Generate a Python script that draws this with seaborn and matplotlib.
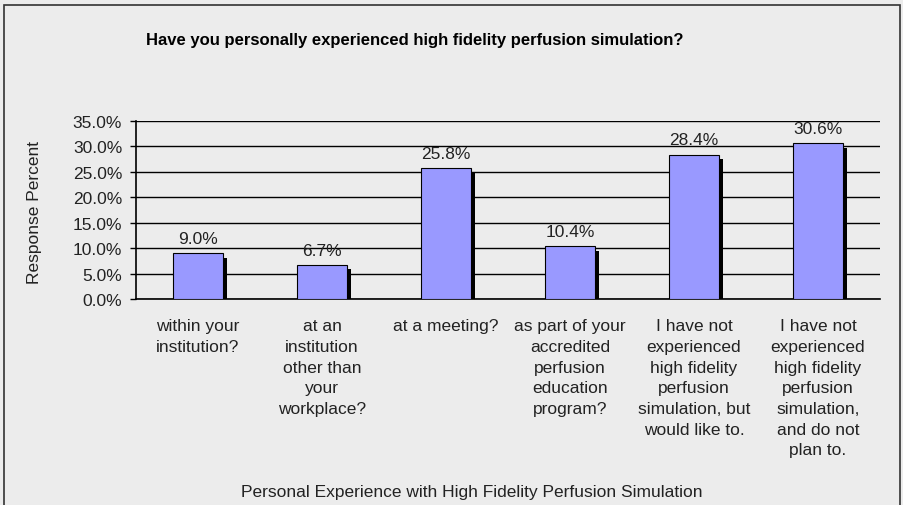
import seaborn as sns
import matplotlib.pyplot as plt
from matplotlib.patches import Rectangle
from matplotlib.transforms import ScaledTranslation
from matplotlib.ticker import FixedLocator, PercentFormatter

# Survey answers and response share (percent)
categories = [
    "within your\ninstitution?",
    "at an\ninstitution\nother than\nyour\nworkplace?",
    "at a meeting?",
    "as part of your\naccredited\nperfusion\neducation\nprogram?",
    "I have not\nexperienced\nhigh fidelity\nperfusion\nsimulation, but\nwould like to.",
    "I have not\nexperienced\nhigh fidelity\nperfusion\nsimulation,\nand do not\nplan to.",
]
percents = [9.0, 6.7, 25.8, 10.4, 28.4, 30.6]
y_ticks = [0, 5, 10, 15, 20, 25, 30, 35]

bg = "#ececec"
text_col = "#222222"

sns.set_style("white")
plt.rcParams["font.family"] = ["Liberation Sans", "DejaVu Sans"]

fig = plt.figure(figsize=(9.04, 5.06), dpi=100, facecolor=bg)
ax = fig.add_axes([136 / 904, 1 - 300 / 506, 744 / 904, 178 / 506])
ax.set_facecolor(bg)

sns.barplot(x=list(range(len(percents))), y=percents, color="#9999ff",
            saturation=1, width=0.4, edgecolor="black", linewidth=0.8,
            ax=ax, zorder=3)

# black drop shadow behind each bar, shifted right and down
shift = ScaledTranslation(4.5 / 100, -4.5 / 100, fig.dpi_scale_trans)
for bar in list(ax.patches):
    sh = Rectangle(bar.get_xy(), bar.get_width(), bar.get_height(),
                   facecolor="black", edgecolor="none",
                   transform=ax.transData + shift, zorder=2.5)
    ax.add_patch(sh)

# value labels
for i, v in enumerate(percents):
    ax.text(i, v + 1.4, f"{v:.1f}%", ha="center", va="bottom",
            fontsize=12.5, color=text_col, zorder=4)

ax.set_ylim(0, 35)
ax.set_xlim(-0.5, len(percents) - 0.5)
ax.set_yticks(y_ticks)
ax.yaxis.set_major_formatter(PercentFormatter(decimals=1))
ax.grid(axis="y", color="black", linewidth=1, zorder=0)
ax.set_axisbelow(True)

ax.set_xticks(range(len(categories)))
ax.set_xticklabels(categories, fontsize=12.5, color=text_col, linespacing=1.47)
ax.xaxis.set_minor_locator(FixedLocator([i - 0.5 for i in range(len(categories) + 1)]))
ax.tick_params(axis="x", which="major", length=0, pad=14)
ax.tick_params(axis="x", which="minor", length=5, width=1, color="black", direction="out")
ax.tick_params(axis="y", length=4, width=1, color="black", pad=6,
               labelsize=12.5, labelcolor=text_col, direction="out", left=True)

for side in ["top", "right"]:
    ax.spines[side].set_visible(False)
for side in ["left", "bottom"]:
    ax.spines[side].set_color("black")
    ax.spines[side].set_linewidth(1.2)

ax.set_xlabel("")
ax.set_ylabel("")

fig.text(415 / 904, 1 - 40 / 506, "Have you personally experienced high fidelity perfusion simulation?",
         ha="center", va="center", fontsize=12, fontweight="bold", color="black")
fig.text(35 / 904, 1 - 212 / 506, "Response Percent", rotation=90,
         ha="center", va="center", fontsize=12.5, color=text_col)
fig.text(472 / 904, 1 - 493 / 506, "Personal Experience with High Fidelity Perfusion Simulation",
         ha="center", va="center", fontsize=12.5, color=text_col)

# outer chart-area frame (runs off the bottom edge)
fig.patches.append(Rectangle((4 / 904, -0.05), 896 / 904, 1.05 - 6 / 506,
                             transform=fig.transFigure, fill=False,
                             edgecolor="#333333", linewidth=1.2))

fig.savefig("out.png", dpi=100, facecolor=bg)
